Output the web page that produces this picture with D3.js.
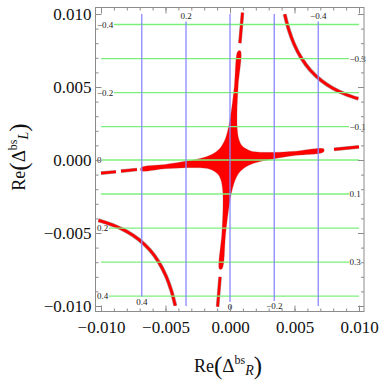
<!DOCTYPE html>
<html><head><meta charset="utf-8">
<script src="https://cdn.jsdelivr.net/npm/d3@7"></script>
<style>
body{margin:0;background:#fff}
svg{display:block}
text{font-family:"Liberation Serif","Times New Roman",serif}
</style>
</head><body>
<svg id="c" width="382" height="382"></svg>
<script>
// ---------- data ----------
const majorTicks = [-0.01, -0.005, 0, 0.005, 0.01];
const tickLabels = ["\u22120.010", "\u22120.005", "0.000", "0.005", "0.010"];

// green contour lines (horizontal)
const greenLevels = ["\u22120.4","\u22120.3","\u22120.2","\u22120.1","0","0.1","0.2","0.3","0.4"];
const greenY = [0.00928, 0.00695, 0.00462, 0.00229, 0, -0.00233, -0.00466, -0.00699, -0.00932];
const greenLabelSide = ["left","right","left","right","left","right","left","right","left"];

// blue contour lines (vertical)
const blueLevels = ["0.4","0.2","0","\u22120.2","\u22120.4"];
const blueX = [-0.00684, -0.00341, 0, 0.00343, 0.00684];
const blueLabelSide = ["bottom","top","bottom","bottom","top"];

// red allowed region: central star outline
const starX = [0.007273,0.005058,0.003384,0.002325,0.001561,0.000957,0.000708,0.000572,0.000546,0.000635,0.000818,
  0.000614,0.000333,0.0000736,-0.000185,-0.000456,-0.00079,-0.001465,-0.002261,-0.00334,-0.005029,-0.006889,
  -0.00691,-0.005058,-0.003384,-0.002325,-0.001561,-0.000957,-0.000708,-0.000572,-0.000546,-0.000635,-0.000818,
  -0.000614,-0.000333,-0.0000736,0.000185,0.000456,0.00079,0.001465,0.002261,0.00334,0.005029,0.007253];
const starY = [0.000759,0.000605,0.00053,0.000539,0.000641,0.000952,0.001364,0.002052,0.003249,0.005057,0.007474,
  0.007455,0.00503,0.003207,0.001983,0.001259,0.000795,0.000368,0.000126,-0.0000757,-0.000303,-0.00051,
  -0.000732,-0.000605,-0.00053,-0.000539,-0.000641,-0.000952,-0.001364,-0.002052,-0.003249,-0.005057,-0.007474,
  -0.007455,-0.00503,-0.003207,-0.001983,-0.001259,-0.000795,-0.000368,-0.000126,0.0000757,0.000303,0.000549];

// red allowed region: hyperbolic branches
const branchTRx = [0.00424,0.004561,0.004963,0.005518,0.006217,0.007085,0.007972,0.008946,0.009948];
const branchTRy = [0.00998,0.008911,0.007947,0.006996,0.006159,0.005438,0.004917,0.004505,0.004195];
const branchBLx = [-0.0102,-0.009948,-0.008946,-0.007972,-0.007085,-0.006217,-0.005518,-0.004963,-0.004561,-0.00424];
const branchBLy = [-0.00413,-0.004195,-0.004505,-0.004917,-0.005438,-0.006159,-0.006996,-0.007947,-0.008911,-0.00998];

// red allowed region: thin dashed continuations of the arms
const dashX1 = [0.00806, -0.01, -0.00845, 0.00097, -0.00077];
const dashY1 = [0.000725, -0.0009, -0.00076, 0.0101, -0.008];
const dashX2 = [0.01, -0.00884, -0.00721, 0.000768, -0.00096];
const dashY2 = [0.0009, -0.0008, -0.00065, 0.008, -0.01005];

// ---------- layout ----------
const svg = d3.select("#c");
const x = d3.scaleLinear([-0.01, 0.01], [101, 359]);
const y = d3.scaleLinear([-0.01, 0.01], [306, 14]);
const F = {l: 95.5, r: 364, t: 7.5, b: 311.5};

const RED = "#ff0000";
const EDGE = "rgba(90,60,60,0.5)";

// star
const starPts = starX.map((v, i) => [v, starY[i]]);
svg.append("path")
  .attr("d", d3.line().x(d => x(d[0])).y(d => y(d[1])).curve(d3.curveCatmullRomClosed.alpha(0.5))(starPts))
  .attr("fill", RED).attr("stroke", "rgba(150,90,90,0.5)").attr("stroke-width", 0.5);

// branches
const lineGen = d3.line().x(d => x(d[0])).y(d => y(d[1])).curve(d3.curveCatmullRom.alpha(0.5));
[[branchTRx, branchTRy], [branchBLx, branchBLy]].forEach(([bx, by]) => {
  const pts = bx.map((v, i) => [v, by[i]]);
  svg.append("path").attr("d", lineGen(pts)).attr("fill", "none")
    .attr("stroke", EDGE).attr("stroke-width", 4);
  svg.append("path").attr("d", lineGen(pts)).attr("fill", "none")
    .attr("stroke", RED).attr("stroke-width", 2.8);
});

// dashes
dashX1.forEach((v, i) => {
  const d = d3.line()([[x(v), y(dashY1[i])], [x(dashX2[i]), y(dashY2[i])]]);
  svg.append("path").attr("d", d).attr("stroke", EDGE).attr("stroke-width", 3.6).attr("fill", "none");
  svg.append("path").attr("d", d).attr("stroke", RED).attr("stroke-width", 2.6).attr("fill", "none");
});

// green contour lines
const GREEN = "#7cf07c", BLUE = "#8888ff";
greenY.forEach((v, i) => {
  const left = greenLabelSide[i] === "left";
  const t = svg.append("text").attr("x", left ? 97 : 349.5).attr("y", y(v))
    .attr("dy", "0.35em").attr("font-size", 9).attr("fill", "#222").text(greenLevels[i]);
  const w = t.node().getComputedTextLength();
  const x0 = left ? 97 + w + 0.5 : x(-0.01);
  const x1 = left ? x(0.01) : 349;
  svg.insert("line", "text").attr("x1", x0).attr("x2", x1).attr("y1", y(v)).attr("y2", y(v))
    .attr("stroke", GREEN).attr("stroke-width", 1.3);
});

// blue contour lines
blueX.forEach((v, i) => {
  const top = blueLabelSide[i] === "top";
  const isZero = blueLevels[i] === "0";
  const ly = top ? 16 : (isZero ? 307 : (i === 0 ? 301.5 : 306));
  svg.append("text").attr("x", x(v)).attr("y", ly).attr("dy", "0.35em")
    .attr("text-anchor", "middle").attr("font-size", 9).attr("fill", "#222").text(blueLevels[i]);
  const y0 = top ? 21.5 : y(0.01);
  const y1 = top ? y(-0.01) : ly - 5;
  svg.insert("line", "text").attr("x1", x(v)).attr("x2", x(v)).attr("y1", y0).attr("y2", y1)
    .attr("stroke", BLUE).attr("stroke-width", 1.3);
});

// ---------- frame & axes ----------
const FRAME = "#8c8c8c";
svg.append("rect").attr("x", F.l).attr("y", F.t).attr("width", F.r - F.l).attr("height", F.b - F.t)
  .attr("fill", "none").attr("stroke", FRAME).attr("stroke-width", 1);

function styleAxis(g) {
  g.select(".domain").remove();
  g.selectAll(".tick line").attr("stroke", FRAME);
  g.selectAll(".tick text").attr("fill", "#111").attr("font-size", 17)
    .attr("font-family", "Liberation Serif, Times New Roman, serif");
}
const minor = x.ticks(20);
const minorY = y.ticks(20);
const fmt = d => tickLabels[majorTicks.findIndex(m => Math.abs(m - d) < 1e-9)];

svg.append("g").attr("transform", `translate(0,${F.b})`)
  .call(d3.axisBottom(x).tickValues(minor).tickSize(-3).tickFormat("")).call(styleAxis);
svg.append("g").attr("transform", `translate(0,${F.b})`)
  .call(d3.axisBottom(x).tickValues(majorTicks).tickSize(-6).tickPadding(9).tickFormat(fmt)).call(styleAxis);
svg.append("g").attr("transform", `translate(0,${F.t})`)
  .call(d3.axisTop(x).tickValues(minor).tickSize(-3).tickFormat("")).call(styleAxis);
svg.append("g").attr("transform", `translate(0,${F.t})`)
  .call(d3.axisTop(x).tickValues(majorTicks).tickSize(-6).tickFormat("")).call(styleAxis);

svg.append("g").attr("transform", `translate(${F.l},0)`)
  .call(d3.axisLeft(y).tickValues(minorY).tickSize(-3).tickFormat("")).call(styleAxis);
svg.append("g").attr("transform", `translate(${F.l},0)`)
  .call(d3.axisLeft(y).tickValues(majorTicks).tickSize(-6).tickPadding(4).tickFormat(fmt)).call(styleAxis);
svg.append("g").attr("transform", `translate(${F.r},0)`)
  .call(d3.axisRight(y).tickValues(minorY).tickSize(-3).tickFormat("")).call(styleAxis);
svg.append("g").attr("transform", `translate(${F.r},0)`)
  .call(d3.axisRight(y).tickValues(majorTicks).tickSize(-6).tickFormat("")).call(styleAxis);

// ---------- axis titles ----------
function title(sel, sub) {
  sel.attr("text-anchor", "middle").attr("fill", "#111").attr("font-size", 18);
  sel.append("tspan").text("Re");
  sel.append("tspan").attr("font-size", 25).attr("dy", 1.5).text("(");
  sel.append("tspan").attr("font-size", 19).attr("dy", -1.5).text("\u0394");
  sel.append("tspan").attr("font-size", 12).attr("dy", -8).text("bs");
  sel.append("tspan").attr("font-size", 14).attr("font-style", "italic").attr("dy", 11).text(sub);
  sel.append("tspan").attr("font-size", 25).attr("dy", -1.5).text(")");
}
svg.append("text").attr("x", 228).attr("y", 372).call(title, "R");
svg.append("text").attr("transform", "translate(25,157) rotate(-90)").call(title, "L");
</script>
</body></html>
